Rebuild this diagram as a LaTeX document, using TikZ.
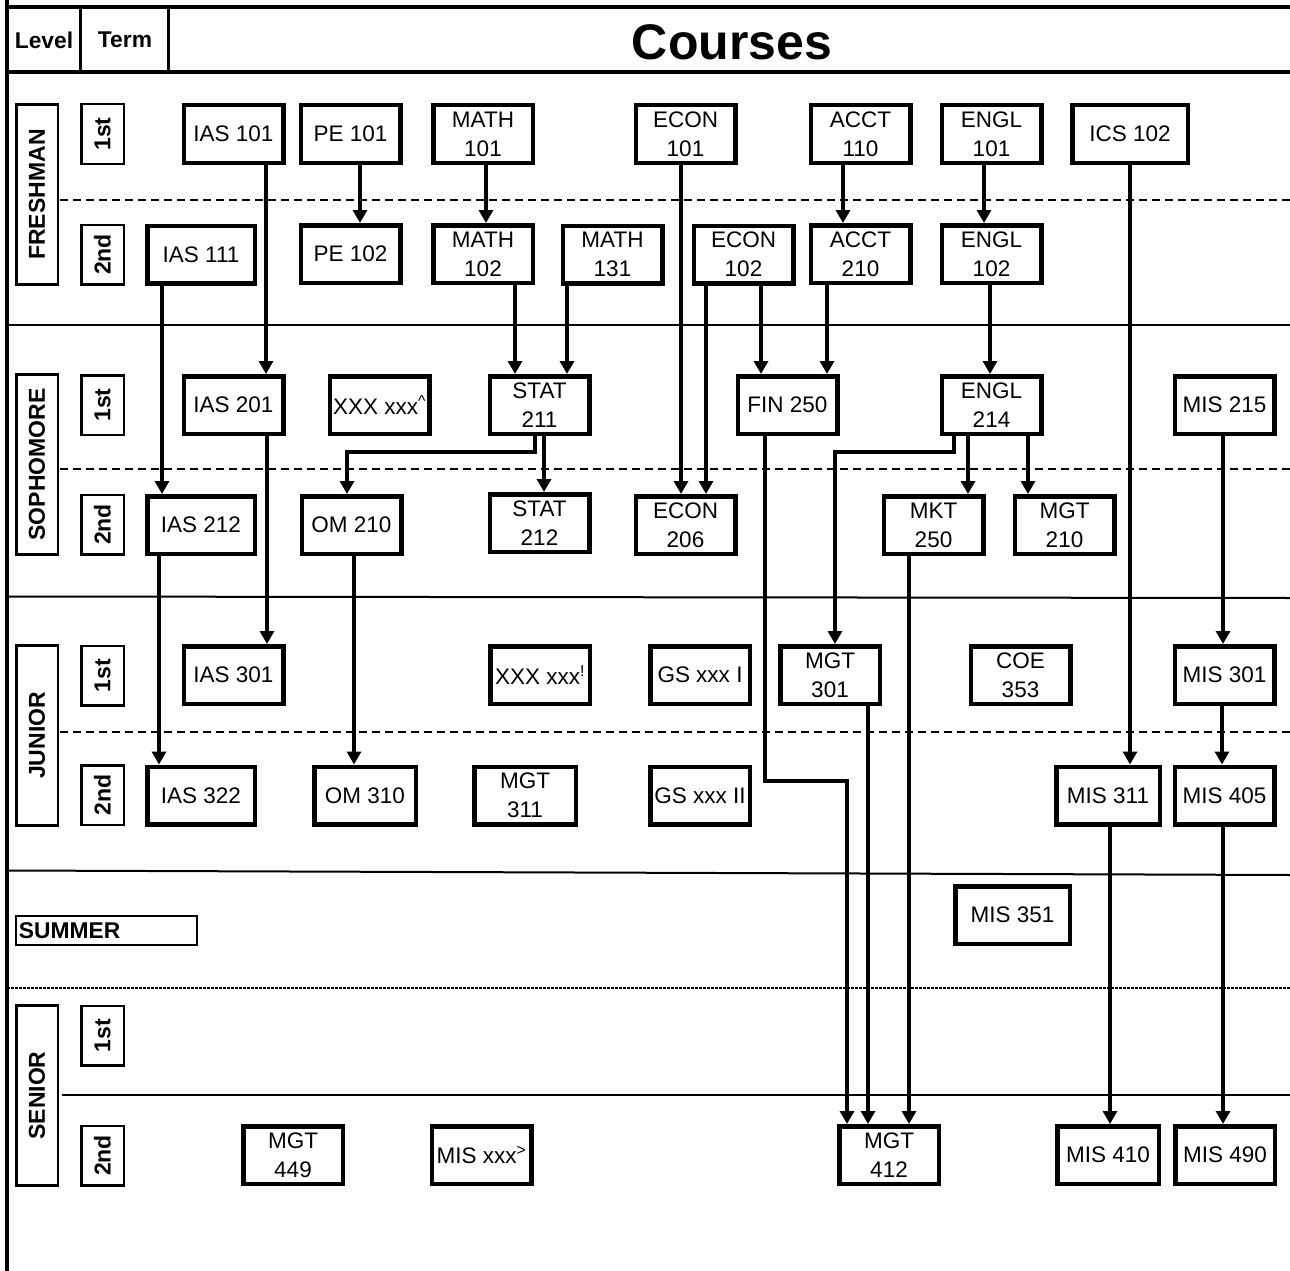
\documentclass[tikz,border=0pt]{standalone}
\usepackage{fontspec}
\setmainfont{Liberation Sans}
\usetikzlibrary{arrows.meta, positioning}

\begin{document}
\begin{tikzpicture}[x=1pt, y=-1pt,
    course/.style={rectangle, draw=black, line width=4.5pt, fill=white, text=black, minimum width=99.5pt, minimum height=57.5pt, inner sep=0pt, align=center, font=\fontsize{22.5}{29}\selectfont},
    levelbox/.style={rectangle, draw=black, line width=2.5pt, rotate=90, minimum width=180pt, minimum height=41.5pt, inner sep=0pt, font=\fontsize{23}{28}\selectfont\bfseries},
    termbox/.style={levelbox, minimum width=59.5pt, minimum height=42.5pt},
    headtext/.style={text=black, inner sep=0pt, font=\fontsize{22.8}{28}\selectfont\bfseries},
    prereq/.style={-{Triangle[length=13pt, width=14pt]}, line width=3.8pt},
    divider/.style={line width=2pt},
    halfterm/.style={line width=2.5pt, dash pattern=on 8pt off 5pt}]
    \useasboundingbox (0,0) rectangle (1290,1271);
    % frame and header
    \draw[line width=4pt] (7,0) -- (7,1271);%left border
    \draw[line width=4pt] (5,7) -- (1290,7);%top line
    \draw[line width=4pt] (5,72) -- (1290,72);%bottom of header
    \draw[line width=3pt] (80,7) -- (80,72);
    \draw[line width=3pt] (168,7) -- (168,72);
    \node (lvl) [headtext] at (44,40) {Level};
    \node (trm) [headtext] at (125,40) {Term};
    \node (courses) [headtext, font=\fontsize{50}{60}\selectfont\bfseries] at (732,42) {Courses};
    % year and term separators
    \draw[halfterm] (60,200) -- (1290,200);%freshman terms
    \draw[divider] (7,325) -- (1290,325);
    \draw[halfterm] (60,469) -- (1290,469);%sophomore terms
    \draw[divider] (7,596.5) -- (1290,598);
    \draw[halfterm] (60,732) -- (1290,732);%junior terms
    \draw[divider] (7,870.5) -- (1290,875);
    \draw[line width=2pt, dash pattern=on 2.5pt off 1.5pt] (7,988) -- (1290,988);%summer
    \draw[divider] (62,1095) -- (1290,1095);%senior terms
    % level and term labels
    \node (fresh) [levelbox] at (37,194.5) {FRESHMAN};
    \node (f1) [termbox] at (102.5,134) {1st};
    \node (f2) [termbox] at (102.5,254.5) {2nd};
    \node (soph) [levelbox] at (37,464.5) {SOPHOMORE};
    \node (s1) [termbox] at (102.5,405) {1st};
    \node (s2) [termbox] at (102.5,524.5) {2nd};
    \node (jun) [levelbox] at (37,735.5) {JUNIOR};
    \node (j1) [termbox] at (102.5,675.5) {1st};
    \node (j2) [termbox] at (102.5,795) {2nd};
    \node (summer) [headtext, draw=black, line width=2pt, text width=175pt, inner xsep=3pt, minimum height=29pt, align=left] at (106.5,930.5) {SUMMER};
    \node (sen) [levelbox] at (37,1095.5) {SENIOR};
    \node (n1) [termbox] at (102.5,1035.5) {1st};
    \node (n2) [termbox] at (102.5,1155.5) {2nd};
    % freshman
    \node (ias101) [course] at (233.5,134) {IAS 101};
    \node (pe101) [course] at (350.5,134) {PE 101};
    \node (math101) [course] at (483,134) {MATH\\101};
    \node (econ101) [course] at (685.5,134) {ECON\\101};
    \node (acct110) [course] at (860.5,134) {ACCT\\110};
    \node (engl101) [course] at (991.5,134) {ENGL\\101};
    \node (ics102) [course, minimum width=115.5pt] at (1130,134) {ICS 102};
    \node (ias111) [course, minimum width=107.5pt] at (201,254.5) {IAS 111};
    \node (pe102) [course, below=58pt of pe101] {PE 102};
    \node (math102) [course, below=58pt of math101] {MATH\\102};
    \node (math131) [course] at (612.5,254.5) {MATH\\131};
    \node (econ102) [course] at (743.5,254.5) {ECON\\102};
    \node (acct210) [course, below=58pt of acct110] {ACCT\\210};
    \node (engl102) [course, below=58pt of engl101] {ENGL\\102};
    % sophomore
    \node (ias201) [course] at (233.5,405) {IAS 201};
    \node (xxx1) [course] at (379.5,405) {XXX xxx\textsuperscript{\textasciicircum}};
    \node (stat211) [course] at (539.5,405) {STAT\\211};
    \node (fin250) [course] at (787.5,405) {FIN 250};
    \node (engl214) [course] at (991.5,405) {ENGL\\214};
    \node (mis215) [course] at (1224.5,405) {MIS 215};
    \node (ias212) [course, minimum width=107.5pt] at (201,525) {IAS 212};
    \node (om210) [course] at (351.5,525) {OM 210};
    \node (stat212) [course, below=56pt of stat211] {STAT\\212};
    \node (econ206) [course] at (685.5,525) {ECON\\206};
    \node (mkt250) [course] at (933.5,525) {MKT\\250};
    \node (mgt210) [course] at (1064.5,525) {MGT\\210};
    % junior
    \node (ias301) [course] at (233.5,675) {IAS 301};
    \node (xxx2) [course] at (540,675) {XXX xxx\textsuperscript{!}};
    \node (gs1) [course] at (700,675) {GS xxx I};
    \node (mgt301) [course] at (830,675) {MGT\\301};
    \node (coe353) [course] at (1020.5,675) {COE\\353};
    \node (mis301) [course] at (1224.5,675) {MIS 301};
    \node (ias322) [course, minimum width=107.5pt] at (201,795.5) {IAS 322};
    \node (om310) [course, minimum width=101.5pt] at (365,795.5) {OM 310};
    \node (mgt311) [course, minimum width=101.5pt] at (525,795.5) {MGT\\311};
    \node (gs2) [course] at (700,795.5) {GS xxx II};
    \node (mis311) [course, minimum width=103.5pt] at (1108,795.5) {MIS 311};
    \node (mis405) [course] at (1224.5,795.5) {MIS 405};
    % summer and senior
    \node (mis351) [course, minimum width=114.5pt] at (1012.5,915) {MIS 351};
    \node (mgt449) [course] at (293,1155) {MGT\\449};
    \node (misxxx) [course] at (481.5,1155) {MIS xxx\textsuperscript{>}};
    \node (mgt412) [course] at (889,1155) {MGT\\412};
    \node (mis410) [course, minimum width=101.5pt] at (1108,1155) {MIS 410};
    \node (mis490) [course] at (1225,1155) {MIS 490};
    % prerequisite arrows
    \draw[prereq] ([xshift=32.5pt]ias101.south) -- ([xshift=32.5pt]ias201.north);%IAS 101 to IAS 201
    \draw[prereq] ([xshift=9.5pt]pe101.south) -- ([xshift=9.5pt]pe102.north);
    \draw[prereq] ([xshift=3pt]math101.south) -- ([xshift=3pt]math102.north);
    \draw[prereq] ([xshift=-17.5pt]acct110.south) -- ([xshift=-17.5pt]acct210.north);
    \draw[prereq] ([xshift=-7.5pt]engl101.south) -- ([xshift=-7.5pt]engl102.north);
    \draw[prereq] ([xshift=-4.5pt]econ101.south) -- ([xshift=-4.5pt]econ206.north);
    \draw[prereq] ([xshift=-37.5pt]econ102.south) -- ([xshift=20.5pt]econ206.north);
    \draw[prereq] ([xshift=17.5pt]econ102.south) -- ([xshift=-26.5pt]fin250.north);
    \draw[prereq] ([xshift=-33.5pt]acct210.south) -- ([xshift=39.5pt]fin250.north);
    \draw[prereq] ([xshift=32pt]math102.south) -- ([xshift=-24.5pt]stat211.north);
    \draw[prereq] ([xshift=-45.5pt]math131.south) -- ([xshift=27.5pt]stat211.north);
    \draw[prereq] ([xshift=-1.5pt]engl102.south) -- ([xshift=-1.5pt]engl214.north);
    \draw[prereq] ([xshift=-39pt]ias111.south) -- ([xshift=-39pt]ias212.north);
    \draw[prereq] ([xshift=-4.5pt]stat211.south) -- ++(0,16) -| ([xshift=-4.5pt]om210.north);%STAT 211 to OM 210
    \draw[prereq] ([xshift=4.5pt]stat211.south) -- ([xshift=4.5pt]stat212.north);
    \draw[prereq] ([xshift=-23.5pt]engl214.south) -- ([xshift=34.5pt]mkt250.north);
    \draw[prereq] ([xshift=36.5pt]engl214.south) -- ([xshift=-36.5pt]mgt210.north);
    \draw[prereq] ([xshift=-37.5pt]engl214.south) -- ++(0,16) -| ([xshift=5pt]mgt301.north);%ENGL 214 to MGT 301
    \draw[prereq] (ics102.south) -- ([xshift=22pt]mis311.north);
    \draw[prereq] ([xshift=-1.5pt]mis215.south) -- ([xshift=-1.5pt]mis301.north);
    \draw[prereq] ([xshift=-2.5pt]mis301.south) -- ([xshift=-2.5pt]mis405.north);
    \draw[prereq] ([xshift=33.5pt]ias201.south) -- ([xshift=33.5pt]ias301.north);
    \draw[prereq] ([xshift=-42pt]ias212.south) -- ([xshift=-42pt]ias322.north);
    \draw[prereq] ([xshift=2.5pt]om210.south) -- ([xshift=-11pt]om310.north);
    \draw[prereq] ([xshift=-22.5pt]fin250.south) -- ++(0,345) -| ([xshift=-42pt]mgt412.north);%FIN 250 to MGT 412
    \draw[prereq] ([xshift=38pt]mgt301.south) -- ([xshift=-21pt]mgt412.north);
    \draw[prereq] ([xshift=-24.5pt]mkt250.south) -- ([xshift=20pt]mgt412.north);
    \draw[prereq] ([xshift=2pt]mis311.south) -- ([xshift=2pt]mis410.north);
    \draw[prereq] ([xshift=-1.5pt]mis405.south) -- ([xshift=-2pt]mis490.north);
\end{tikzpicture}
\end{document}
